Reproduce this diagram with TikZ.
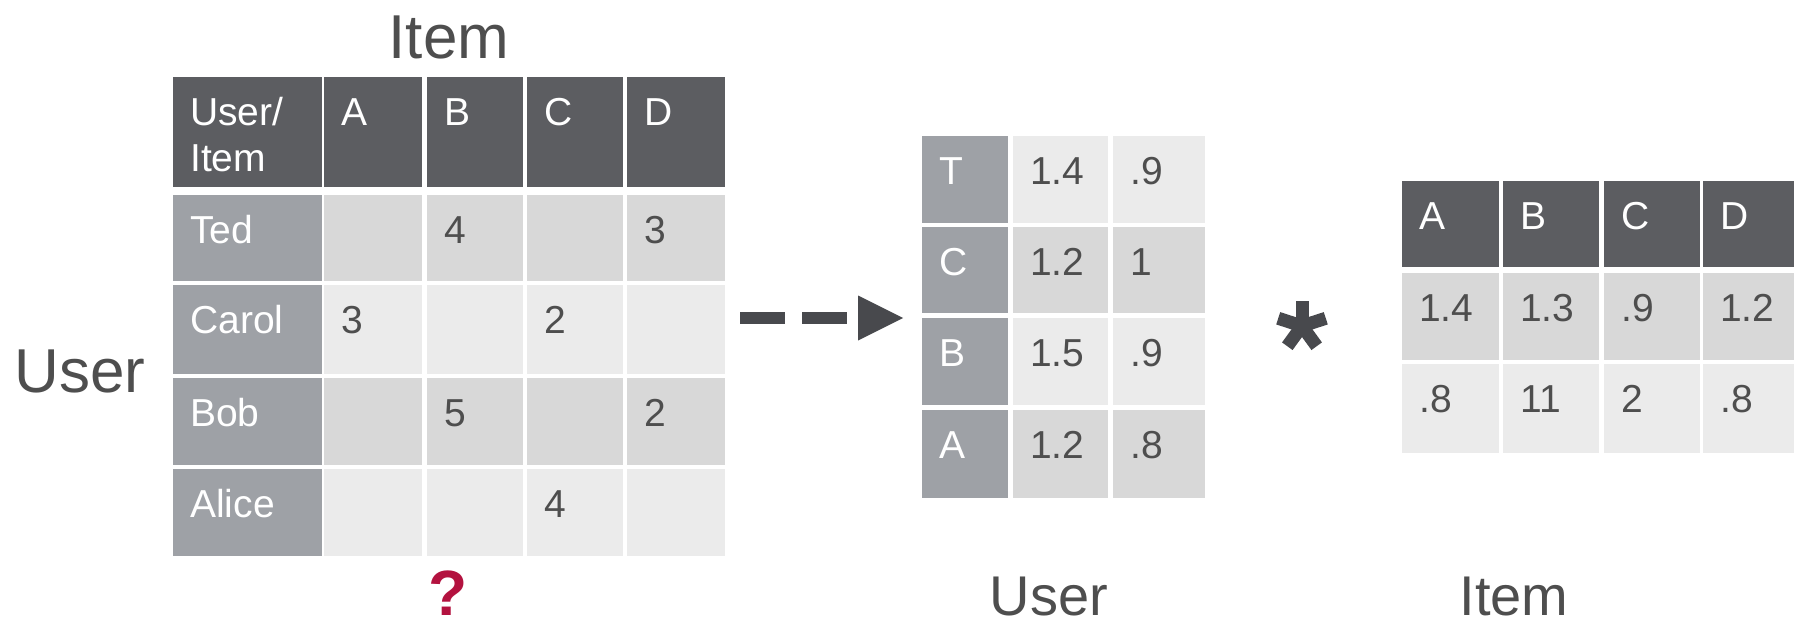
\documentclass[tikz,border=0pt]{standalone}
\usepackage{fontspec}
\setmainfont{Liberation Sans}
\definecolor{hdrc}{HTML}{5C5D61}
\definecolor{labc}{HTML}{9EA1A6}
\definecolor{drkc}{HTML}{D8D8D8}
\definecolor{lgtc}{HTML}{EBEBEB}
\definecolor{valc}{HTML}{4E4E4E}
\definecolor{inkc}{HTML}{48494D}
\definecolor{qc}{HTML}{B3123F}
\tikzset{
  cellbase/.style={anchor=north west, inner sep=0pt, outer sep=0pt, draw=none},
  hdr/.style={fill=hdrc}, lab/.style={fill=labc}, drk/.style={fill=drkc}, lgt/.style={fill=lgtc},
  hdrt/.style={text=white}, labt/.style={text=white}, drkt/.style={text=valc}, lgtt/.style={text=valc},
  celltext/.style={anchor=base west, inner sep=0pt, font=\fontsize{39}{46}\selectfont},
  biglabel/.style={anchor=base, inner sep=0pt, text=valc, font=\fontsize{62}{70}\selectfont},
  botlabel/.style={anchor=base, inner sep=0pt, text=valc, font=\fontsize{56}{64}\selectfont},
  dashline/.style={draw=inkc, line width=12pt, dash pattern=on 45pt off 17pt},
  tipfill/.style={fill=inkc},
  astarm/.style={draw=inkc, line width=13pt},
}
\newcommand\cellbox[7]{%
  \node[cellbase,#6,minimum width=#4pt,minimum height=#5pt] (#1) at (#2,#3) {};
  \node[celltext,#6t] (#1t) at ([xshift=17pt,yshift=-48pt]#1.north west) {#7};}
\begin{document}
\begin{tikzpicture}[x=1pt,y=-1pt]
\useasboundingbox (0,0) rectangle (1794,629);
% ---------- left table ----------
\cellbox{L00}{173}{77}{149}{110}{hdr}{User/}
\node[celltext,hdrt] (L00b) at ([xshift=17pt,yshift=-94pt]L00.north west) {Item};
\cellbox{L01}{324}{77}{98}{110}{hdr}{A}
\cellbox{L02}{427}{77}{96}{110}{hdr}{B}
\cellbox{L03}{527}{77}{96}{110}{hdr}{C}
\cellbox{L04}{627}{77}{98}{110}{hdr}{D}
\cellbox{L10}{173}{195}{149}{86}{lab}{Ted}
\cellbox{L11}{324}{195}{98}{86}{drk}{}
\cellbox{L12}{427}{195}{96}{86}{drk}{4}
\cellbox{L13}{527}{195}{96}{86}{drk}{}
\cellbox{L14}{627}{195}{98}{86}{drk}{3}
\cellbox{L20}{173}{285}{149}{89}{lab}{Carol}
\cellbox{L21}{324}{285}{98}{89}{lgt}{3}
\cellbox{L22}{427}{285}{96}{89}{lgt}{}
\cellbox{L23}{527}{285}{96}{89}{lgt}{2}
\cellbox{L24}{627}{285}{98}{89}{lgt}{}
\cellbox{L30}{173}{378}{149}{87}{lab}{Bob}
\cellbox{L31}{324}{378}{98}{87}{drk}{}
\cellbox{L32}{427}{378}{96}{87}{drk}{5}
\cellbox{L33}{527}{378}{96}{87}{drk}{}
\cellbox{L34}{627}{378}{98}{87}{drk}{2}
\cellbox{L40}{173}{469}{149}{87}{lab}{Alice}
\cellbox{L41}{324}{469}{98}{87}{lgt}{}
\cellbox{L42}{427}{469}{96}{87}{lgt}{}
\cellbox{L43}{527}{469}{96}{87}{lgt}{4}
\cellbox{L44}{627}{469}{98}{87}{lgt}{}
% ---------- middle table ----------
\cellbox{M10}{922}{136}{86}{87}{lab}{T}
\cellbox{M11}{1013}{136}{95}{87}{lgt}{1.4}
\cellbox{M12}{1113}{136}{92}{87}{lgt}{.9}
\cellbox{M20}{922}{227}{86}{86}{lab}{C}
\cellbox{M21}{1013}{227}{95}{86}{drk}{1.2}
\cellbox{M22}{1113}{227}{92}{86}{drk}{1}
\cellbox{M30}{922}{318}{86}{87}{lab}{B}
\cellbox{M31}{1013}{318}{95}{87}{lgt}{1.5}
\cellbox{M32}{1113}{318}{92}{87}{lgt}{.9}
\cellbox{M40}{922}{410}{86}{88}{lab}{A}
\cellbox{M41}{1013}{410}{95}{88}{drk}{1.2}
\cellbox{M42}{1113}{410}{92}{88}{drk}{.8}
% ---------- right table ----------
\cellbox{R01}{1402}{181}{97}{86}{hdr}{A}
\cellbox{R02}{1503}{181}{96}{86}{hdr}{B}
\cellbox{R03}{1604}{181}{96}{86}{hdr}{C}
\cellbox{R04}{1703}{181}{91}{86}{hdr}{D}
\cellbox{R11}{1402}{273}{97}{87}{drk}{1.4}
\cellbox{R12}{1503}{273}{96}{87}{drk}{1.3}
\cellbox{R13}{1604}{273}{96}{87}{drk}{.9}
\cellbox{R14}{1703}{273}{91}{87}{drk}{1.2}
\cellbox{R21}{1402}{364}{97}{89}{lgt}{.8}
\cellbox{R22}{1503}{364}{96}{89}{lgt}{11}
\cellbox{R23}{1604}{364}{96}{89}{lgt}{2}
\cellbox{R24}{1703}{364}{91}{89}{lgt}{.8}
% ---------- labels ----------
\node[biglabel] (itemtop) at (449,58) {Item};
\node[biglabel] (userleft) at (80,392) {User};
\node[botlabel] (userbot) at (1049,615) {User};
\node[botlabel] (itembot) at (1514,615) {Item};
\node[anchor=base, inner sep=0pt, text=qc, font=\fontsize{64}{70}\selectfont\bfseries] (qmark) at (448,615) {?};
% ---------- dashed arrow ----------
\coordinate (arrS) at (740,318);
\coordinate (arrE) at (903,318);
\draw[dashline, shorten >=45pt] (arrS) -- (arrE);
\fill[tipfill] (arrE) -- ++(-45,-22.5) -- ++(0,45) -- cycle;
% ---------- asterisk ----------
\coordinate (ast) at (1302,326);
\foreach \a in {90,18,162,-54,234} \draw[astarm] (ast) -- ++(\a:25pt);
\end{tikzpicture}
\end{document}
